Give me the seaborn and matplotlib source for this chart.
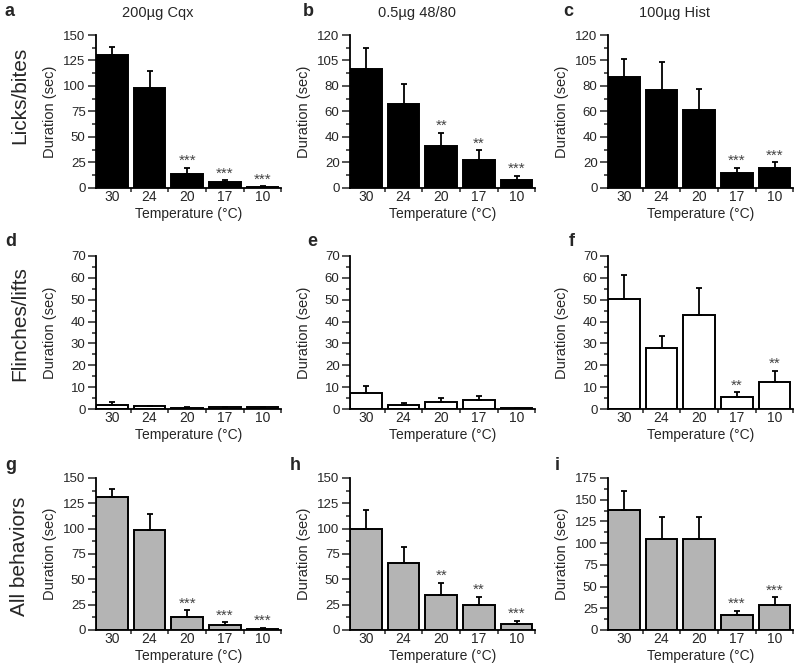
import numpy as np
import matplotlib
matplotlib.use("Agg")
import matplotlib.pyplot as plt
from matplotlib.ticker import MultipleLocator
import seaborn as sns

# ── data ─────────────────────────────────────────────────────────────────────
temps = ["30", "24", "20", "17", "10"]

licks_cqx      = [130.3, 98.2, 13.8, 5.2, 1.0]
licks_cqx_err  = [7.6, 16.4, 5.8, 2.0, 0.5]
licks_cqx_sig  = ["", "", "***", "***", "***"]
licks_4880     = [93.0, 65.8, 32.8, 21.8, 6.3]
licks_4880_err = [16.6, 15.5, 10.2, 7.6, 3.1]
licks_4880_sig = ["", "", "**", "**", "***"]
licks_hist     = [86.8, 76.8, 61.0, 11.6, 15.7]
licks_hist_err = [14.2, 21.8, 16.4, 3.9, 4.3]
licks_hist_sig = ["", "", "", "***", "***"]

flinch_cqx      = [2.0, 1.2, 0.6, 0.9, 0.8]
flinch_cqx_err  = [1.2, 0.3, 0.2, 0.2, 0.2]
flinch_cqx_sig  = ["", "", "", "", ""]
flinch_4880     = [7.5, 1.8, 3.4, 4.1, 0.3]
flinch_4880_err = [3.2, 1.1, 1.8, 1.8, 0.2]
flinch_4880_sig = ["", "", "", "", ""]
flinch_hist     = [50.2, 27.9, 43.2, 5.5, 12.5]
flinch_hist_err = [11.3, 5.5, 12.3, 2.1, 5.0]
flinch_hist_sig = ["", "", "", "**", "**"]

all_cqx      = [131.6, 98.4, 12.8, 5.3, 1.3]
all_cqx_err  = [7.9, 16.1, 6.6, 2.3, 1.0]
all_cqx_sig  = ["", "", "***", "***", "***"]
all_4880     = [99.7, 66.4, 34.9, 24.7, 5.9]
all_4880_err = [19.1, 15.8, 11.8, 7.9, 3.0]
all_4880_sig = ["", "", "**", "**", "***"]
all_hist     = [137.8, 105.1, 105.1, 17.7, 28.4]
all_hist_err = [22.6, 24.9, 25.4, 4.2, 9.2]
all_hist_sig = ["", "", "", "***", "***"]

col_titles = ["200\u00b5g Cqx", "0.5\u00b5g 48/80", "100\u00b5g Hist"]
row_titles = ["Licks/bites", "Flinches/lifts", "All behaviors"]
panel_letters = ["a", "b", "c", "d", "e", "f", "g", "h", "i"]

# y tick labels as printed in the figure
yticks_150 = ["0", "25", "50", "75", "100", "125", "150"]
yticks_120 = ["0", "20", "40", "60", "80", "105", "120"]
yticks_70  = ["0", "10", "20", "30", "40", "50", "60", "70"]
yticks_175 = ["0", "25", "50", "75", "100", "125", "150", "175"]

# ── style ────────────────────────────────────────────────────────────────────
sns.set_style("ticks")
plt.rcParams["font.family"] = ["Liberation Sans", "DejaVu Sans"]

FILL = {"licks": "#000000", "flinch": "#ffffff", "all": "#b4b4b4"}

panels = [
    (licks_cqx, licks_cqx_err, licks_cqx_sig, "licks", 150, 25, yticks_150),
    (licks_4880, licks_4880_err, licks_4880_sig, "licks", 120, 20, yticks_120),
    (licks_hist, licks_hist_err, licks_hist_sig, "licks", 120, 20, yticks_120),
    (flinch_cqx, flinch_cqx_err, flinch_cqx_sig, "flinch", 70, 10, yticks_70),
    (flinch_4880, flinch_4880_err, flinch_4880_sig, "flinch", 70, 10, yticks_70),
    (flinch_hist, flinch_hist_err, flinch_hist_sig, "flinch", 70, 10, yticks_70),
    (all_cqx, all_cqx_err, all_cqx_sig, "all", 150, 25, yticks_150),
    (all_4880, all_4880_err, all_4880_sig, "all", 150, 25, yticks_150),
    (all_hist, all_hist_err, all_hist_sig, "all", 175, 25, yticks_175),
]

W, H = 803, 668
fig = plt.figure(figsize=(W / 100, H / 100), dpi=100)

# axes geometry in pixels
col_left = [96, 350, 608]
ax_w = 185.5
row_top = [35, 256, 478]
row_bot = [187.7, 409, 630]

for k, (vals, errs, sig, kind, ytop, ystep, ylabels) in enumerate(panels):
    r, c = divmod(k, 3)
    ax = fig.add_axes([col_left[c] / W, 1 - row_bot[r] / H,
                       ax_w / W, (row_bot[r] - row_top[r]) / H])

    sns.barplot(x=temps, y=vals, order=temps, color=FILL[kind], saturation=1,
                edgecolor="black", linewidth=1.4, width=0.84, errorbar=None, ax=ax)
    ax.errorbar(range(len(temps)), vals, yerr=[np.zeros(len(errs)), errs],
                fmt="none", ecolor="black", elinewidth=1.3, capsize=2.5, capthick=1.3)

    for i, s in enumerate(sig):
        if s:
            ax.annotate(s, (i, vals[i] + errs[i]), xytext=(0, 2),
                        textcoords="offset points", ha="center", va="baseline",
                        fontsize=11, color="#444444")

    ax.set_xlim(-0.42, 4.5)
    ax.set_ylim(0, ytop)
    ax.set_yticks(np.arange(0, ytop + 1, ystep))
    ax.set_yticklabels(ylabels, fontsize=9.5)
    ax.yaxis.set_minor_locator(MultipleLocator(ystep / 2))
    ax.set_xticks(range(len(temps)))
    ax.set_xticklabels(temps, fontsize=10)
    ax.set_xticks(np.arange(0.5, 5, 1), minor=True)

    ax.tick_params(axis="x", which="major", length=0, pad=1.5)
    ax.tick_params(axis="x", which="minor", length=3, width=1.1, direction="out")
    ax.tick_params(axis="y", which="major", length=6, width=1.1, pad=1.5)
    ax.tick_params(axis="y", which="minor", length=3, width=1.1)

    sns.despine(ax=ax)
    for sp in ("left", "bottom"):
        ax.spines[sp].set_linewidth(1.3)
        ax.spines[sp].set_color("black")

    ax.set_ylabel("Duration (sec)", fontsize=10.5)
    ax.yaxis.set_label_coords(-0.21, 0.5)
    ax.set_xlabel("Temperature (\u00b0C)", fontsize=10, labelpad=2)

# column titles, row titles, panel letters
for x, t in zip([158, 417, 675], col_titles):
    fig.text(x / W, 1 - 13 / H, t, ha="center", va="center", fontsize=10.5)

for y, t in zip([95, 324, 556], row_titles):
    fig.text(20 / W, 1 - y / H, t, ha="center", va="center", rotation=90, fontsize=15)

letter_pos = [(5, 12), (303, 12), (563, 12),
              (5, 242), (307, 242), (569, 242),
              (5, 466), (290, 466), (555, 465)]
for (x, y), t in zip(letter_pos, panel_letters):
    fig.text(x / W, 1 - y / H, t, ha="left", va="center",
             fontsize=13, fontweight="bold")

plt.savefig("out.png", dpi=100)
plt.close()
